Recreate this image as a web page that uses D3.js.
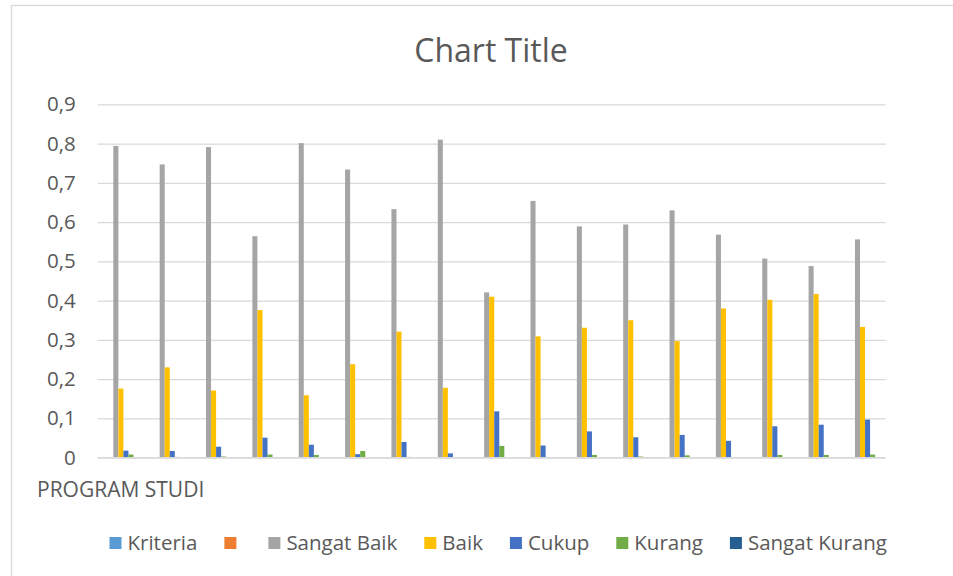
<!DOCTYPE html>
<html>
<head>
<meta charset="utf-8">
<script src="https://cdn.jsdelivr.net/npm/d3@7"></script>
<style>
  body { margin: 0; background: #fff; }
  svg { display: block; font-family: "Open Sans", sans-serif; }
</style>
</head>
<body>
<svg id="chart"></svg>
<script>
// values, one entry per program (17 groups)
const categories = d3.range(1, 18).map(String);
const seriesNames = ["Kriteria", "", "Sangat Baik", "Baik", "Cukup", "Kurang", "Sangat Kurang"];
const seriesColors = ["#5B9BD5", "#ED7D31", "#A5A5A5", "#FFC000", "#4472C4", "#70AD47", "#255E91"];

const kriteria = categories.map(() => null);
const kosong = categories.map(() => null);
const sangatBaik = [0.794, 0.747, 0.791, 0.564, 0.801, 0.734, 0.633, 0.810, 0.421, 0.654, 0.589, 0.594, 0.630, 0.568, 0.507, 0.488, 0.556];
const baik = [0.176, 0.230, 0.171, 0.376, 0.159, 0.238, 0.321, 0.178, 0.410, 0.309, 0.331, 0.350, 0.297, 0.380, 0.402, 0.417, 0.333];
const cukup = [0.018, 0.017, 0.028, 0.051, 0.033, 0.009, 0.040, 0.011, 0.118, 0.031, 0.067, 0.052, 0.058, 0.043, 0.080, 0.084, 0.097];
const kurang = [0.008, 0.002, 0.003, 0.008, 0.007, 0.017, 0.002, 0, 0.030, 0, 0.007, 0.003, 0.006, 0.001, 0.007, 0.007, 0.008];
const sangatKurang = [0, 0, 0, 0, 0, 0, 0, 0, 0, 0, 0, 0, 0, 0, 0, 0, 0];

const yTicks = [0, 0.1, 0.2, 0.3, 0.4, 0.5, 0.6, 0.7, 0.8, 0.9];

const seriesValues = [kriteria, kosong, sangatBaik, baik, cukup, kurang, sangatKurang];

const W = 953, H = 576;
const plot = { left: 97.7, right: 885.7, top: 104.3, bottom: 457.7 };

const svg = d3.select("#chart").attr("width", W).attr("height", H);

// chart area border (runs off the right and bottom of the picture)
svg.append("rect")
  .attr("x", 11.5).attr("y", 5.5)
  .attr("width", W + 20).attr("height", H + 20)
  .attr("fill", "#fff")
  .attr("stroke", "#D9D9D9")
  .attr("stroke-width", 1.3);

svg.append("text")
  .attr("x", 491).attr("y", 61.5)
  .attr("text-anchor", "middle")
  .attr("font-size", 32)
  .attr("fill", "#595959")
  .text("Chart Title");

const x = d3.scaleBand()
  .domain(categories)
  .range([plot.left, plot.right])
  .paddingInner(0).paddingOuter(0);

// Excel gap width ~219%
const barW = x.bandwidth() / (seriesNames.length + 2.19);
const gap = barW * 2.19;
const xs = d3.scaleBand()
  .domain(d3.range(seriesNames.length))
  .range([gap / 2, x.bandwidth() - gap / 2])
  .padding(0);

const y = d3.scaleLinear()
  .domain([0, 0.9])
  .range([plot.bottom, plot.top]);

const fmt = v => v === 0 ? "0" : d3.format(".1f")(v).replace(".", ",");

const yAxis = svg.append("g")
  .attr("transform", `translate(${plot.left},0)`)
  .call(d3.axisLeft(y).tickValues(yTicks).tickFormat(fmt)
    .tickSize(-(plot.right - plot.left)).tickPadding(22));

yAxis.select(".domain").remove();
yAxis.selectAll(".tick line")
  .attr("stroke", "#D9D9D9")
  .attr("stroke-width", 1.3);
yAxis.selectAll(".tick text")
  .attr("font-size", 20.5)
  .attr("font-family", "Open Sans, sans-serif")
  .attr("fill", "#595959");

const groups = svg.append("g")
  .selectAll("g")
  .data(categories)
  .join("g")
  .attr("transform", d => `translate(${x(d)},0)`);

groups.selectAll("rect")
  .data((d, i) => seriesValues.map((vals, s) => ({ s, v: vals[i] })).filter(e => e.v != null))
  .join("rect")
  .attr("x", d => xs(d.s))
  .attr("width", xs.bandwidth())
  .attr("y", d => y(d.v))
  .attr("height", d => y(0) - y(d.v))
  .attr("fill", d => seriesColors[d.s]);

// category axis line
svg.append("line")
  .attr("x1", plot.left).attr("x2", plot.right)
  .attr("y1", y(0)).attr("y2", y(0))
  .attr("stroke", "#D9D9D9")
  .attr("stroke-width", 1.3);

svg.append("text")
  .attr("x", 37).attr("y", 497)
  .attr("font-size", 21)
  .attr("fill", "#595959")
  .text("PROGRAM STUDI");

// legend
const legend = svg.append("g").attr("transform", "translate(0,550)");
let lx = 109.5;
seriesNames.forEach((name, i) => {
  legend.append("rect")
    .attr("x", lx).attr("y", -13)
    .attr("width", 12).attr("height", 12)
    .attr("fill", seriesColors[i]);
  const t = legend.append("text")
    .attr("x", lx + 18).attr("y", 0)
    .attr("font-size", 20.5)
    .attr("fill", "#595959")
    .text(name);
  const tw = name ? t.node().getComputedTextLength() : 0;
  lx += 18 + tw + (name ? 27 : 26);
});
</script>
</body>
</html>
